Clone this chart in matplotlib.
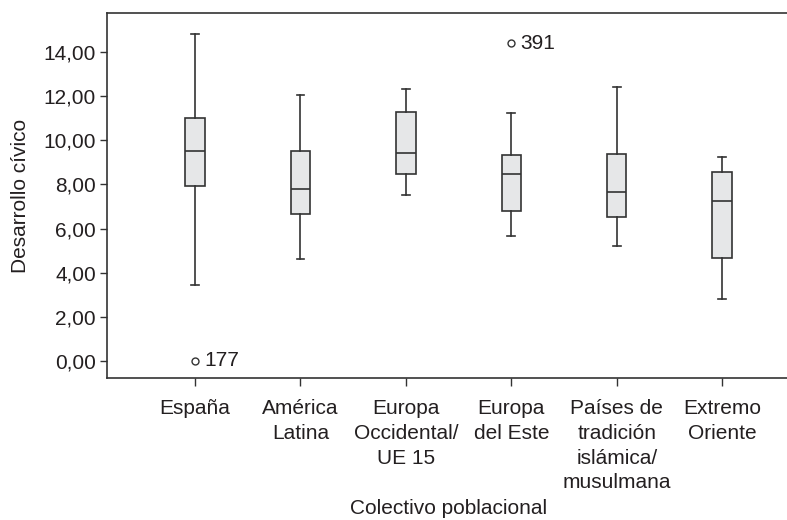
import matplotlib
matplotlib.use("Agg")
import matplotlib.pyplot as plt

plt.rcParams['font.family'] = ['Liberation Sans', 'DejaVu Sans']

# Colectivo poblacional (grupos)
grupos = ["España", "América\nLatina", "Europa\nOccidental/\nUE 15", "Europa\ndel Este",
          "Países de\ntradición\nislámica/\nmusulmana", "Extremo\nOriente"]

# Resumen de cinco números por grupo
bigote_inf = [3.45, 4.63, 7.52, 5.65, 5.23, 2.82]
cuartil_1 = [7.91, 6.68, 8.46, 6.80, 6.51, 4.67]
mediana = [9.50, 7.81, 9.41, 8.49, 7.66, 7.24]
cuartil_3 = [11.00, 9.51, 11.26, 9.35, 9.39, 8.58]
bigote_sup = [14.82, 12.06, 12.32, 11.23, 12.42, 9.24]

# Valores atípicos (caso, grupo, valor)
atipicos_grupo = [0, 3]
atipicos_valor = [0.02, 14.38]
atipicos_caso = ["177", "391"]

yticks = [0, 2, 4, 6, 8, 10, 12, 14]

ink = "#231f20"
line = "#333333"
fill = "#e6e7e8"
fs = 15

fig = plt.figure(figsize=(7.87, 5.20), dpi=100)
ax = fig.add_axes([0.136, 0.2725, 0.868, 0.703])

stats = []
for i in range(len(grupos)):
    fl = [v for g, v in zip(atipicos_grupo, atipicos_valor) if g == i]
    stats.append(dict(whislo=bigote_inf[i], q1=cuartil_1[i], med=mediana[i],
                      q3=cuartil_3[i], whishi=bigote_sup[i], fliers=fl))

pos = list(range(1, len(grupos) + 1))
ax.bxp(stats, positions=pos, widths=0.185, patch_artist=True, showfliers=True,
       boxprops=dict(facecolor=fill, edgecolor=line, linewidth=1.2),
       medianprops=dict(color=line, linewidth=1.2),
       whiskerprops=dict(color=line, linewidth=1.2),
       capprops=dict(color=line, linewidth=1.2),
       capwidths=0.075,
       flierprops=dict(marker='o', markersize=5, markerfacecolor='white',
                       markeredgecolor=line, markeredgewidth=1.0))

for g, v, c in zip(atipicos_grupo, atipicos_valor, atipicos_caso):
    ax.annotate(c, xy=(pos[g], v), xytext=(6.5, 0), textcoords='offset points',
                ha='left', va='center', fontsize=fs, color=ink)

ax.set_xlim(0.165, 6.645)
ax.set_ylim(-0.77, 15.77)
ax.set_yticks(yticks)
ax.set_yticklabels([f"{v:.2f}".replace(".", ",") for v in yticks])
ax.set_xticks(pos)
ax.set_xticklabels(grupos, linespacing=1.38)

ax.tick_params(axis='y', length=5, width=1, color=line, labelsize=fs, labelcolor=ink, pad=3)
ax.tick_params(axis='x', length=6, width=1, color=line, labelsize=fs, labelcolor=ink, pad=9)
for s in ax.spines.values():
    s.set_color(line)
    s.set_linewidth(1.2)
ax.spines['right'].set_visible(False)

ax.set_ylabel("Desarrollo cívico", fontsize=fs, color=ink, labelpad=10)
ax.set_xlabel("Colectivo poblacional", fontsize=fs, color=ink, labelpad=5)

fig.savefig("out.png", dpi=100)
